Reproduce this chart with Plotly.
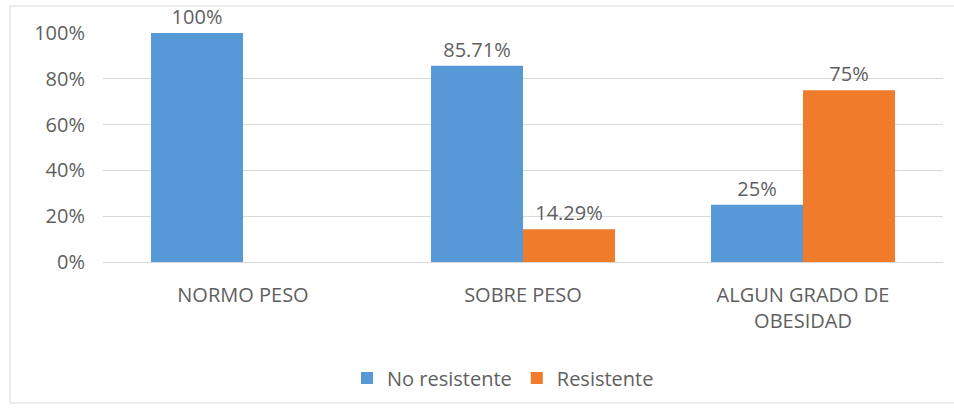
import plotly.graph_objects as go

categorias = ["NORMO PESO", "SOBRE PESO", "ALGUN GRADO DE<br>OBESIDAD"]
no_resistente = [100, 85.71, 25]
resistente = [0, 14.29, 75]
ticks_y = [0, 20, 40, 60, 80, 100]
ticks_y_texto = ["0%", "20%", "40%", "60%", "80%", "100%"]

GRIS_TEXTO = "#5f5f5f"
FUENTE = "Open Sans"
TAM = 20
W, H = 954, 413
L, R, T, B = 103, 11, 33, 151


def etiquetas(vals):
    return [f"{v:g}%" if v > 0 else "" for v in vals]


fig = go.Figure()
fig.add_trace(go.Bar(
    name="No resistente", x=categorias, y=no_resistente,
    text=etiquetas(no_resistente), textposition="outside",
    marker=dict(color="#5798d6", line=dict(width=0)),
    cliponaxis=False,
))
fig.add_trace(go.Bar(
    name="Resistente", x=categorias, y=resistente,
    text=etiquetas(resistente), textposition="outside",
    marker=dict(color="#ef7b2b", line=dict(width=0)),
    cliponaxis=False,
))

fig.update_traces(textfont=dict(family=FUENTE, size=TAM, color=GRIS_TEXTO))

pw, ph = W - L - R, H - T - B


def px_x(p):
    return (p - L) / pw


def px_y(p):
    return (H - B - p) / ph


fig.update_layout(
    width=W, height=H,
    margin=dict(l=L, r=R, t=T, b=B, pad=0),
    paper_bgcolor="white", plot_bgcolor="white",
    font=dict(family=FUENTE, size=TAM, color=GRIS_TEXTO),
    barmode="group", bargap=0.343, bargroupgap=0,
    showlegend=True,
    legend=dict(
        orientation="h", x=px_x(503), xanchor="center",
        y=px_y(378), yanchor="middle",
        font=dict(family=FUENTE, size=TAM, color=GRIS_TEXTO),
        itemwidth=30, traceorder="normal",
    ),
    xaxis=dict(
        showgrid=False, showline=False, zeroline=False,
        ticks="outside", ticklen=15, tickcolor="rgba(0,0,0,0)",
        tickfont=dict(family=FUENTE, size=TAM, color=GRIS_TEXTO),
    ),
    yaxis=dict(
        range=[0, 100], tickvals=ticks_y, ticktext=ticks_y_texto,
        showgrid=True, gridcolor="#d9d9d9", gridwidth=1,
        zeroline=True, zerolinecolor="#d9d9d9", zerolinewidth=1,
        showline=False,
        ticks="outside", ticklen=13, tickcolor="rgba(0,0,0,0)",
        tickfont=dict(family=FUENTE, size=TAM, color=GRIS_TEXTO),
    ),
    shapes=[dict(
        type="rect", xref="paper", yref="paper",
        x0=px_x(10), x1=px_x(960), y0=px_y(403), y1=px_y(6),
        line=dict(color="#d9d9d9", width=1), fillcolor="rgba(0,0,0,0)",
        layer="below",
    )],
)

fig.write_html("out.html")
